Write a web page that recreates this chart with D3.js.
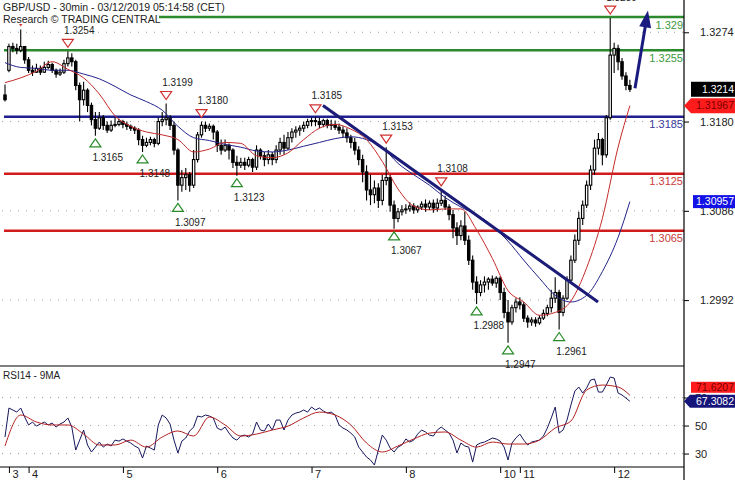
<!DOCTYPE html>
<html><head><meta charset="utf-8">
<script src="https://cdn.jsdelivr.net/npm/d3@7"></script>
<style>
body{margin:0;background:#fff;}
svg{display:block;font-family:"Liberation Sans",Arial,sans-serif;}
</style></head><body>
<svg id="c" width="735" height="480"></svg>
<script>
// ---------- DATA ----------
const titleText = "GBP/USD - 30min - 03/12/2019 05:14:58 (CET)";
const subTitleText = "Research \u00A9 TRADING CENTRAL";
const rsiTitle = "RSI14 - 9MA";
const dayTickIdx = [1, 6, 30, 54, 78, 102, 126, 131, 155];
const dayLabels = ["3", "4", "5", "6", "7", "8", "10", "11", "12"];
const priceTicks = [1.3274, 1.3180, 1.3086, 1.2992];
const rsiTicks = [70, 50, 30];

const opens = [1.3208,1.3234,1.3259,1.3257,1.3255,1.3259,1.3245,1.3234,1.3232,1.3236,
1.3232,1.3237,1.3240,1.3234,1.3230,1.3232,1.3241,1.3247,1.3243,1.3218,
1.3203,1.3213,1.3197,1.3182,1.3173,1.3184,1.3176,1.3171,1.3176,1.3177,
1.3180,1.3177,1.3175,1.3173,1.3171,1.3161,1.3155,1.3158,1.3161,1.3157,
1.3180,1.3182,1.3184,1.3176,1.3150,1.3113,1.3121,1.3124,1.3113,1.3140,
1.3166,1.3176,1.3173,1.3175,1.3169,1.3155,1.3150,1.3155,1.3150,1.3137,
1.3134,1.3137,1.3134,1.3140,1.3132,1.3150,1.3144,1.3140,1.3145,1.3140,
1.3150,1.3158,1.3152,1.3163,1.3169,1.3171,1.3173,1.3176,1.3180,1.3181,
1.3180,1.3177,1.3181,1.3176,1.3177,1.3174,1.3171,1.3168,1.3163,1.3158,
1.3150,1.3140,1.3127,1.3108,1.3103,1.3110,1.3097,1.3118,1.3121,1.3092,
1.3078,1.3085,1.3087,1.3088,1.3091,1.3087,1.3090,1.3093,1.3090,1.3094,
1.3089,1.3094,1.3097,1.3090,1.3082,1.3068,1.3060,1.3070,1.3055,1.3034,
1.3011,1.3000,1.3008,1.3011,1.3014,1.3010,1.3015,1.3000,1.2979,1.2969,
1.2984,1.2990,1.2987,1.2973,1.2969,1.2971,1.2968,1.2973,1.2978,1.2984,
1.2994,1.3000,1.2979,1.2994,1.3013,1.3034,1.3055,1.3078,1.3092,1.3113,
1.3129,1.3152,1.3161,1.3145,1.3184,1.3250,1.3257,1.3243,1.3228,1.3218];

const highs = [1.3219,1.3262,1.3263,1.3262,1.3277,1.3257,1.3248,1.3239,1.3241,1.3239,
1.3243,1.3244,1.3242,1.3236,1.3236,1.3245,1.3254,1.3252,1.3245,1.3221,
1.3222,1.3215,1.3200,1.3190,1.3190,1.3187,1.3180,1.3181,1.3184,1.3183,
1.3182,1.3180,1.3177,1.3175,1.3173,1.3165,1.3163,1.3164,1.3163,1.3184,
1.3190,1.3199,1.3187,1.3180,1.3152,1.3129,1.3131,1.3127,1.3150,1.3169,
1.3180,1.3180,1.3178,1.3177,1.3171,1.3161,1.3161,1.3157,1.3152,1.3144,
1.3142,1.3142,1.3143,1.3142,1.3155,1.3152,1.3148,1.3150,1.3148,1.3155,
1.3163,1.3166,1.3169,1.3173,1.3175,1.3176,1.3180,1.3183,1.3184,1.3185,
1.3184,1.3183,1.3183,1.3182,1.3181,1.3178,1.3175,1.3173,1.3166,1.3163,
1.3154,1.3145,1.3134,1.3124,1.3118,1.3115,1.3124,1.3153,1.3124,1.3097,
1.3089,1.3092,1.3093,1.3095,1.3094,1.3092,1.3096,1.3098,1.3097,1.3098,
1.3099,1.3108,1.3102,1.3093,1.3087,1.3074,1.3076,1.3085,1.3060,1.3039,
1.3017,1.3013,1.3017,1.3016,1.3018,1.3017,1.3017,1.3005,1.2992,1.2987,
1.2994,1.2995,1.2990,1.2976,1.2974,1.2974,1.2976,1.2982,1.2987,1.3003,
1.3016,1.3003,1.2997,1.3017,1.3039,1.3061,1.3085,1.3097,1.3118,1.3134,
1.3161,1.3168,1.3163,1.3187,1.3289,1.3263,1.3261,1.3247,1.3232,1.3224];

const lows = [1.3201,1.3232,1.3253,1.3251,1.3253,1.3241,1.3231,1.3228,1.3231,1.3229,
1.3231,1.3235,1.3231,1.3226,1.3228,1.3230,1.3238,1.3238,1.3213,1.3180,
1.3197,1.3190,1.3176,1.3165,1.3171,1.3171,1.3168,1.3169,1.3174,1.3175,
1.3173,1.3171,1.3170,1.3167,1.3155,1.3148,1.3153,1.3155,1.3153,1.3155,
1.3175,1.3176,1.3171,1.3145,1.3097,1.3106,1.3108,1.3106,1.3110,1.3137,
1.3163,1.3169,1.3170,1.3161,1.3148,1.3145,1.3148,1.3140,1.3131,1.3123,
1.3131,1.3129,1.3132,1.3127,1.3129,1.3140,1.3133,1.3135,1.3134,1.3136,
1.3145,1.3145,1.3150,1.3158,1.3163,1.3165,1.3169,1.3173,1.3175,1.3175,
1.3173,1.3174,1.3173,1.3171,1.3171,1.3167,1.3163,1.3158,1.3152,1.3145,
1.3134,1.3116,1.3097,1.3092,1.3094,1.3089,1.3092,1.3113,1.3085,1.3067,
1.3074,1.3081,1.3083,1.3085,1.3083,1.3084,1.3087,1.3085,1.3087,1.3084,
1.3085,1.3091,1.3087,1.3076,1.3057,1.3050,1.3055,1.3050,1.3029,1.3003,
1.2988,1.2996,1.3000,1.3003,1.3007,1.3005,1.2992,1.2973,1.2947,1.2966,
1.2979,1.2982,1.2969,1.2963,1.2965,1.2964,1.2966,1.2971,1.2975,1.2979,
1.2989,1.2961,1.2975,1.2992,1.3010,1.3031,1.3050,1.3071,1.3089,1.3108,
1.3124,1.3145,1.3134,1.3142,1.3182,1.3231,1.3234,1.3224,1.3213,1.3211];

const closes = [1.3203,1.3259,1.3257,1.3255,1.3259,1.3245,1.3234,1.3232,1.3236,1.3232,
1.3237,1.3240,1.3234,1.3230,1.3232,1.3241,1.3247,1.3243,1.3218,1.3203,
1.3213,1.3197,1.3182,1.3173,1.3184,1.3176,1.3171,1.3176,1.3177,1.3180,
1.3177,1.3175,1.3173,1.3171,1.3161,1.3155,1.3158,1.3161,1.3157,1.3180,
1.3182,1.3184,1.3176,1.3150,1.3113,1.3121,1.3124,1.3113,1.3140,1.3166,
1.3176,1.3173,1.3175,1.3169,1.3155,1.3150,1.3155,1.3150,1.3137,1.3134,
1.3137,1.3134,1.3140,1.3132,1.3150,1.3144,1.3140,1.3145,1.3140,1.3150,
1.3158,1.3152,1.3163,1.3169,1.3171,1.3173,1.3176,1.3180,1.3181,1.3180,
1.3177,1.3181,1.3176,1.3177,1.3174,1.3171,1.3168,1.3163,1.3158,1.3150,
1.3140,1.3127,1.3108,1.3103,1.3110,1.3097,1.3118,1.3121,1.3092,1.3078,
1.3085,1.3087,1.3088,1.3091,1.3087,1.3090,1.3093,1.3090,1.3094,1.3089,
1.3094,1.3097,1.3090,1.3082,1.3068,1.3060,1.3070,1.3055,1.3034,1.3011,
1.3000,1.3008,1.3011,1.3014,1.3010,1.3015,1.3000,1.2979,1.2969,1.2984,
1.2990,1.2987,1.2973,1.2969,1.2971,1.2968,1.2973,1.2978,1.2984,1.2994,
1.3000,1.2979,1.2994,1.3013,1.3034,1.3055,1.3078,1.3092,1.3113,1.3129,
1.3152,1.3161,1.3145,1.3184,1.3250,1.3257,1.3243,1.3228,1.3218,1.3214];

const maIdx = [0,4,8,12,16,20,24,28,32,36,40,44,48,52,56,60,64,68,72,76,80,84,88,92,96,100,104,108,112,116,120,124,128,132,136,140,144,148,152,156,159];
const maFast = [1.3221,1.3226,1.3233,1.3243,1.3235,1.3226,1.3209,1.3186,1.3175,1.3169,1.3166,1.3161,1.3148,1.3151,1.3158,1.3157,1.3144,1.3142,1.3147,1.3161,1.3173,1.3177,1.3172,1.3161,1.3138,1.3109,1.3091,1.3087,1.3088,1.3088,1.3066,1.3036,1.3002,1.2990,1.2976,1.2979,1.2991,1.3026,1.3078,1.3153,1.31967];
const maSlow = [1.3242,1.3237,1.3236,1.3234,1.3234,1.3230,1.3225,1.3217,1.3208,1.3201,1.3192,1.3175,1.3163,1.3160,1.3156,1.3153,1.3149,1.3148,1.3150,1.3154,1.3158,1.3162,1.3164,1.3161,1.3153,1.3136,1.3124,1.3113,1.3100,1.3090,1.3082,1.3070,1.3054,1.3034,1.3015,1.2997,1.2990,1.2997,1.3022,1.3058,1.30957];

const rsi = [41.8,62.5,61.1,59.6,62.5,56.1,50.4,52.5,49.6,51.1,
52.5,50.4,51.8,48.9,51.1,52.5,55.4,48.9,32.5,39.6,
46.8,36.1,31.1,34.6,38.2,34.6,36.8,35.4,39.6,38.9,
40.4,38.9,37.5,35.4,33.9,26.8,35.4,33.9,32.5,50.4,
57.5,55.4,51.1,39.6,30.4,38.9,41.1,46.1,48.9,56.8,
56.1,57.5,56.8,55.4,48.2,46.8,48.9,44.6,41.1,39.6,
42.5,43.2,41.8,43.9,52.5,46.8,46.1,51.1,46.8,53.9,
53.9,46.8,53.9,57.5,58.9,59.6,61.1,59.6,63.2,61.1,
62.5,60.4,58.9,59.6,57.5,50.4,48.2,46.8,44.6,41.8,
34.6,31.1,27.5,25.4,21.8,32.5,43.2,39.6,33.9,31.1,
34.6,36.1,40.4,38.2,39.6,43.9,46.8,45.4,43.2,42.5,
46.8,48.9,46.8,44.6,39.6,30.4,37.5,35.4,34.6,23.9,
36.1,37.5,38.2,39.6,41.1,40.4,38.9,34.6,25.4,37.5,
41.1,43.9,39.6,36.1,38.2,38.9,39.6,42.5,48.2,55.4,
63.2,44.6,46.8,53.9,64.6,74.6,77.5,73.2,76.8,82.5,
83.2,73.9,73.9,78.9,84.6,83.9,73.2,71.8,69.6,67.3082];
const rsiMa = [35.4,57.5,52.5,50.4,50.4,43.9,36.1,36.1,39.6,34.6,41.8,46.1,42.5,56.1,50.4,42.5,43.9,46.8,49.6,55.4,59.6,57.5,50.4,37.5,31.1,35.4,40.4,44.6,45.4,39.6,34.6,38.2,36.8,36.8,39.6,48.2,53.2,75.4,78.9,77.5,71.6207];

const levels = [1.329, 1.3255, 1.3185, 1.3125, 1.3065];
const levelLabels = ["1.329", "1.3255", "1.3185", "1.3125", "1.3065"];

const markerIdx = [4, 16, 41, 50, 79, 97, 111, 154, 23, 35, 44, 59, 99, 120, 128, 141];
const markerPrice = [1.3277, 1.3254, 1.3199, 1.3180, 1.3185, 1.3153, 1.3108, 1.3289, 1.3165, 1.3148, 1.3097, 1.3123, 1.3067, 1.2988, 1.2947, 1.2961];
const markerType = ["H","H","H","H","H","H","H","H","L","L","L","L","L","L","L","L"];

const trendIdx = [80.9, 150.9];
const trendPrice = [1.3197, 1.2990];
const arrowIdx = [160.3, 163.6];
const arrowPrice = [1.3215, 1.3297];

const lastPrice = 1.3214, lastFast = 1.31967, lastSlow = 1.30957, lastRsi = 67.3082, lastRsiMa = 71.6207;

// ---------- STYLE ----------
const levelLineColors = ["#2b8a2b", "#2b8a2b", "#1f1f8f", "#d01c1c", "#d01c1c"];
const levelTextColors = ["#3c9a3c", "#3c9a3c", "#3a3a9a", "#c83c3c", "#c83c3c"];

// ---------- CHART ----------
const svg = d3.select("#c");
const AX = 684, MAIN_B = 366, RSI_B = 467;
const x = d3.scaleLinear().domain([0, 159]).range([5, 5 + 159 * 3.93]);
const y = d3.scaleLinear().domain([1.29226, 1.3308]).range([MAIN_B, 0]);
const yR = d3.scaleLinear().domain([20.4, 92.5]).range([RSI_B, MAIN_B]);

const defs = svg.append("defs");
defs.append("clipPath").attr("id", "clipMain").append("rect").attr("x", 0).attr("y", 0).attr("width", AX).attr("height", MAIN_B);
defs.append("clipPath").attr("id", "clipRsi").append("rect").attr("x", 0).attr("y", MAIN_B).attr("width", AX).attr("height", RSI_B - MAIN_B);

const gm = svg.append("g").attr("clip-path", "url(#clipMain)");

// dotted grid
gm.selectAll("line.grid").data(priceTicks).join("line")
  .attr("x1", 2).attr("x2", AX).attr("y1", d => y(d)).attr("y2", d => y(d))
  .attr("stroke", "#a0a0a0").attr("stroke-width", 1).attr("stroke-dasharray", "1,7");

// level lines
gm.selectAll("line.level").data(levels).join("line")
  .attr("x1", x(0) - 1).attr("x2", AX).attr("y1", d => y(d)).attr("y2", d => y(d))
  .attr("stroke", (d, i) => levelLineColors[i]).attr("stroke-width", 2.5);

// candles
const idx = d3.range(closes.length);
gm.append("g").selectAll("line").data(idx).join("line")
  .attr("x1", i => x(i)).attr("x2", i => x(i))
  .attr("y1", i => y(highs[i])).attr("y2", i => y(lows[i]))
  .attr("stroke", "#000").attr("stroke-width", 1.1);
gm.append("g").selectAll("rect").data(idx).join("rect")
  .attr("x", i => x(i) - 1.2).attr("width", 2.4)
  .attr("y", i => y(Math.max(opens[i], closes[i])))
  .attr("height", i => Math.max(Math.abs(y(opens[i]) - y(closes[i])), 0.6))
  .attr("fill", i => closes[i] >= opens[i] ? "#fff" : "#000")
  .attr("stroke", "#000").attr("stroke-width", 1.1);

// moving averages
const maLine = d3.line().x(d => x(d[0])).y(d => y(d[1])).curve(d3.curveMonotoneX);
gm.append("path").datum(d3.zip(maIdx, maSlow)).attr("d", maLine)
  .attr("fill", "none").attr("stroke", "#23238c").attr("stroke-width", 1);
gm.append("path").datum(d3.zip(maIdx, maFast)).attr("d", maLine)
  .attr("fill", "none").attr("stroke", "#c42a2a").attr("stroke-width", 1);

// trendline
gm.append("line")
  .attr("x1", x(trendIdx[0])).attr("y1", y(trendPrice[0]))
  .attr("x2", x(trendIdx[1])).attr("y2", y(trendPrice[1]))
  .attr("stroke", "#1b1b78").attr("stroke-width", 3);

// arrow
{
  const x0 = x(arrowIdx[0]), y0 = y(arrowPrice[0]), x1 = x(arrowIdx[1]), y1 = y(arrowPrice[1]);
  const len = Math.hypot(x1 - x0, y1 - y0), ux = (x1 - x0) / len, uy = (y1 - y0) / len;
  const hl = 17, hw = 6;
  const bx = x1 - ux * hl, by = y1 - uy * hl;
  gm.append("line").attr("x1", x0).attr("y1", y0).attr("x2", bx + ux * 3).attr("y2", by + uy * 3)
    .attr("stroke", "#1a1a80").attr("stroke-width", 3);
  gm.append("path")
    .attr("d", `M${x1},${y1}L${bx - uy * hw},${by + ux * hw}L${bx + uy * hw},${by - ux * hw}Z`)
    .attr("fill", "#1a1a80");
}

// markers
const mg = svg.append("g");
markerIdx.forEach((bi, k) => {
  const cx = x(bi), py = y(markerPrice[k]);
  if (markerType[k] === "H") {
    mg.append("path").attr("d", `M${cx - 5.5},${py - 12}L${cx + 5.5},${py - 12}L${cx},${py - 4}Z`)
      .attr("fill", "#fff").attr("stroke", "#d03030").attr("stroke-width", 1.2);
  } else {
    mg.append("path").attr("d", `M${cx},${py + 3}L${cx - 5.5},${py + 11}L${cx + 5.5},${py + 11}Z`)
      .attr("fill", "#fff").attr("stroke", "#2a8a2a").attr("stroke-width", 1.2);
  }
});

// title background + title
svg.append("rect").attr("x", 0).attr("y", 0).attr("width", 159).attr("height", 24).attr("fill", "#fff");
svg.append("text").attr("x", 3).attr("y", 10.5).attr("font-size", "10.5px").attr("fill", "#222").text(titleText);
svg.append("text").attr("x", 3).attr("y", 22.5).attr("font-size", "10.5px").attr("fill", "#222").text(subTitleText);

// marker labels
markerIdx.forEach((bi, k) => {
  const cx = x(bi), py = y(markerPrice[k]);
  const hi = markerType[k] === "H";
  mg.append("text").attr("x", hi ? cx - 4 : cx - 3).attr("y", hi ? py - 17.5 : py + 25.5)
    .attr("font-size", "10px").attr("fill", "#222").text(markerPrice[k].toFixed(4));
});

// level labels
svg.append("g").selectAll("text").data(levels).join("text")
  .attr("x", AX - 1).attr("y", d => y(d) + 11.5).attr("text-anchor", "end")
  .attr("font-size", "11px").attr("fill", (d, i) => levelTextColors[i])
  .text((d, i) => levelLabels[i]);

// ---------- RSI panel ----------
const gr = svg.append("g").attr("clip-path", "url(#clipRsi)");
gr.selectAll("line.grid").data(rsiTicks).join("line")
  .attr("x1", 2).attr("x2", AX).attr("y1", d => yR(d)).attr("y2", d => yR(d))
  .attr("stroke", "#a0a0a0").attr("stroke-width", 1).attr("stroke-dasharray", "1,7");
gr.append("path").datum(d3.zip(idx, rsi))
  .attr("d", d3.line().x(d => x(d[0])).y(d => yR(d[1])))
  .attr("fill", "none").attr("stroke", "#17175e").attr("stroke-width", 1);
gr.append("path").datum(d3.zip(maIdx, rsiMa))
  .attr("d", d3.line().x(d => x(d[0])).y(d => yR(d[1])).curve(d3.curveMonotoneX))
  .attr("fill", "none").attr("stroke", "#b42222").attr("stroke-width", 1);
svg.append("text").attr("x", 3).attr("y", 379).attr("font-size", "10px").attr("fill", "#222").text(rsiTitle);

// frame lines
svg.append("line").attr("x1", 0).attr("x2", AX).attr("y1", MAIN_B).attr("y2", MAIN_B).attr("stroke", "#000").attr("stroke-width", 1.2);
svg.append("line").attr("x1", 0).attr("x2", AX).attr("y1", RSI_B).attr("y2", RSI_B).attr("stroke", "#000").attr("stroke-width", 1.2);
svg.append("line").attr("x1", AX).attr("x2", AX).attr("y1", 0).attr("y2", 480).attr("stroke", "#000").attr("stroke-width", 1.2);

// axes
const ay = svg.append("g").attr("transform", `translate(${AX},0)`)
  .call(d3.axisRight(y).tickValues(priceTicks).tickFormat(d3.format(".4f")).tickSize(5).tickPadding(11));
const ar = svg.append("g").attr("transform", `translate(${AX},0)`)
  .call(d3.axisRight(yR).tickValues(rsiTicks).tickFormat(d3.format("d")).tickSize(5).tickPadding(6));
const ax = svg.append("g").attr("transform", `translate(0,${RSI_B})`)
  .call(d3.axisBottom(x).tickValues(dayTickIdx).tickFormat((d, i) => dayLabels[i]).tickSize(6));
ax.selectAll("text").attr("x", 3).attr("y", 11).attr("dy", 0).style("text-anchor", "start");
[ay, ar, ax].forEach(g => {
  g.select(".domain").remove();
  g.selectAll("text").attr("font-size", "11px").attr("font-family", "Liberation Sans, Arial, sans-serif").attr("fill", "#222");
  g.selectAll("line").attr("stroke", "#000");
});

// value boxes
function box(yc, h, bg, fg, label, left, pointer) {
  const g = svg.append("g");
  const t = yc - h / 2, b = yc + h / 2;
  if (pointer) {
    g.append("path").attr("d", `M${AX},${yc}L${left},${t}L735,${t}L735,${b}L${left},${b}Z`).attr("fill", bg);
  } else {
    g.append("rect").attr("x", left).attr("y", t).attr("width", 735 - left).attr("height", h).attr("fill", bg);
  }
  g.append("text").attr("x", 734).attr("y", yc + 3.8).attr("text-anchor", "end")
    .attr("font-size", "10.5px").attr("fill", fg).text(label);
  return t;
}
box(y(lastPrice), 15, "#000", "#fff", lastPrice.toFixed(4), 691, false);
box(y(lastFast), 15, "#ff1c1c", "#7a0000", lastFast.toFixed(5), 691, true);
box(y(lastSlow), 13, "#1212e6", "#fff", lastSlow.toFixed(5), 693, false);
const navyTop = box(yR(lastRsi), 13, "#14147a", "#fff", lastRsi.toFixed(4), 690, true);
box(Math.min(yR(lastRsiMa), navyTop - 2 - 5.5), 11, "#ff1c1c", "#7a0000", lastRsiMa.toFixed(4), 691, false);
</script>
</body></html>
